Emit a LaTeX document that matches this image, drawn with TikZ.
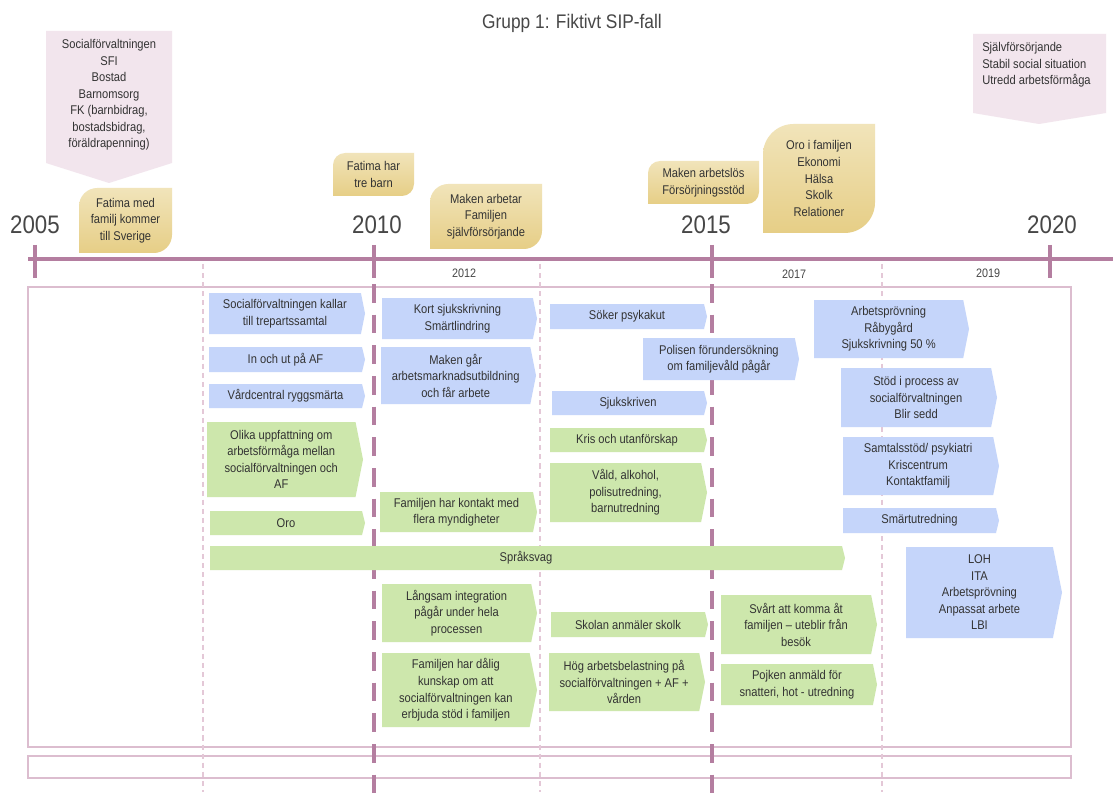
\documentclass[tikz,border=0pt]{standalone}
\usepackage{fontspec}
\setmainfont{Liberation Sans}[FakeStretch=0.88]
\definecolor{bluebox}{HTML}{C5D5FA}
\definecolor{greenbox}{HTML}{CDE7AC}
\definecolor{pinkbox}{HTML}{F2E5ED}
\definecolor{mauve}{HTML}{B47EA0}
\definecolor{lightmauve}{HTML}{E4C8D7}
\definecolor{rectline}{HTML}{DCBDCF}
\definecolor{yeltop}{HTML}{F1E4BA}
\definecolor{yelbot}{HTML}{E6CE86}
\definecolor{txtgray}{HTML}{333333}
\tikzset{
  boxtext/.style={align=center, font=\fontsize{9.5}{12.4}\selectfont, text=txtgray, inner sep=0pt},
  yeartext/.style={font=\fontsize{19}{22}\selectfont, text=txtgray!90, inner sep=0pt},
  smallyear/.style={font=\fontsize{9.2}{11}\selectfont, text=txtgray!90, inner sep=0pt},
  thindash/.style={draw=lightmauve, line width=1.1pt, dash pattern=on 3.8pt off 3pt},
  thickdash/.style={draw=mauve, line width=2.5pt, dash pattern=on 14pt off 9pt},
  bfill/.style={fill=bluebox},
  gfill/.style={fill=greenbox},
}
\newcommand\chevbox[7]{%
  \pgfmathsetmacro\cbD{max(3,0.1*(#5-#3))}%
  \pgfmathsetmacro\cbY{(#3+#5)/2}%
  \pgfmathsetmacro\cbX{(#2+#4-\cbD)/2}%
  \pgfmathsetmacro\cbE{#4-\cbD}%
  \fill[#6] (#2,#3) -- (\cbE,#3) -- (#4,\cbY) -- (\cbE,#5) -- (#2,#5) -- cycle;
  \node[boxtext] (#1) at (\cbX,\cbY) {#7};
}
\newcommand\leafbox[6]{%
  \pgfmathsetmacro\lfR{0.28*min(#4-#2,#5-#3)}%
  \pgfmathsetmacro\lfA{#3+\lfR}%
  \pgfmathsetmacro\lfB{#3+0.448*\lfR}%
  \pgfmathsetmacro\lfC{#2+0.448*\lfR}%
  \pgfmathsetmacro\lfD{#2+\lfR}%
  \pgfmathsetmacro\lfE{#5-\lfR}%
  \pgfmathsetmacro\lfF{#5-0.448*\lfR}%
  \pgfmathsetmacro\lfG{#4-0.448*\lfR}%
  \pgfmathsetmacro\lfH{#4-\lfR}%
  \shade[top color=yeltop,bottom color=yelbot] (#2,#5) -- (#2,\lfA) .. controls (#2,\lfB) and (\lfC,#3) .. (\lfD,#3) -- (#4,#3) -- (#4,\lfE) .. controls (#4,\lfF) and (\lfG,#5) .. (\lfH,#5) -- cycle;
  \pgfmathsetmacro\lfX{(#2+#4)/2}%
  \pgfmathsetmacro\lfY{(#3+#5)/2}%
  \node[boxtext] (#1) at (\lfX,\lfY) {#6};
}
\begin{document}
\begin{tikzpicture}[x=0.75pt,y=-0.75pt]
\useasboundingbox (0,0) rectangle (1113,802);
\fill[white] (0,0) rectangle (1113,802);

% title
\node[font=\fontsize{14.75}{17}\selectfont, text=txtgray!90, inner sep=0pt] (title) at (572,23) {Grupp 1: Fiktivt SIP-fall};

% pink callouts
\fill[pinkbox] (46,31) -- (172,31) -- (172,163) -- (109,183) -- (46,163) -- cycle;
\node[boxtext] (pk1) at (109,95) {Socialförvaltningen\\SFI\\Bostad\\Barnomsorg\\FK (barnbidrag,\\bostadsbidrag,\\föräldrapenning)};
\fill[pinkbox] (973,34) -- (1106,34) -- (1106,113) -- (1039,124) -- (973,113) -- cycle;
\node[boxtext, align=left, anchor=west] (pk2) at (982,65) {Självförsörjande\\Stabil social situation\\Utredd arbetsförmåga};

% yellow leaves
\leafbox{fat1}{79}{188}{172}{253}{Fatima med\\familj kommer\\till Sverige}
\leafbox{fat2}{333}{153}{414}{196}{Fatima har\\tre barn}
\leafbox{makarb}{430}{184}{542}{249}{Maken arbetar\\Familjen\\självförsörjande}
\leafbox{makls}{648}{161}{759}{204}{Maken arbetslös\\Försörjningsstöd}
\leafbox{orofam}{763}{124}{875}{233}{Oro i familjen\\Ekonomi\\Hälsa\\Skolk\\Relationer}

% years
\node[yeartext] (y2005) at (35,225) {2005};
\node[yeartext] (y2010) at (377,225) {2010};
\node[yeartext] (y2015) at (706,225) {2015};
\node[yeartext] (y2020) at (1052,225) {2020};
\node[smallyear] (y2012) at (464,273) {2012};
\node[smallyear] (y2017) at (794,274) {2017};
\node[smallyear] (y2019) at (988,273) {2019};

% frames
\draw[rectline, line width=1.1pt] (28,287) rectangle (1071,747);
\draw[rectline, line width=1.1pt] (28,756) rectangle (1071,778);

% dashed lines
\draw[thindash] (203,264) -- (203,792);
\draw[thindash] (540,264) -- (540,792);
\draw[thindash] (882,264) -- (882,792);
\draw[thickdash] (374,284) -- (374,802);
\draw[thickdash] (712,284) -- (712,802);

% timeline
\draw[mauve, line width=3pt] (28,259) -- (1113,259);
\foreach \tx in {35,374,712,1050} \draw[mauve, line width=2.3pt] (\tx,245) -- (\tx,278);

% boxes
\chevbox{soc}{209}{293}{365}{334}{bfill}{Socialförvaltningen kallar\\till trepartssamtal}
\chevbox{inout}{209}{347}{365}{372}{bfill}{In och ut på AF}
\chevbox{vard}{209}{384}{365}{408}{bfill}{Vårdcentral ryggsmärta}
\chevbox{olika}{207}{422}{363}{497}{gfill}{Olika uppfattning om\\arbetsförmåga mellan\\socialförvaltningen och\\AF}
\chevbox{oro}{210}{511}{365}{535}{gfill}{Oro}
\chevbox{sprak}{210}{546}{845}{570}{gfill}{Språksvag}
\chevbox{kort}{382}{298}{537}{339}{bfill}{Kort sjukskrivning\\Smärtlindring}
\chevbox{makengar}{381}{347}{536}{404}{bfill}{Maken går\\arbetsmarknadsutbildning\\och får arbete}
\chevbox{famkont}{380}{492}{537}{532}{gfill}{Familjen har kontakt med\\flera myndigheter}
\chevbox{langsam}{382}{584}{537}{642}{gfill}{Långsam integration\\pågår under hela\\processen}
\chevbox{famdalig}{382}{653}{537}{727}{gfill}{Familjen har dålig\\kunskap om att\\socialförvaltningen kan\\erbjuda stöd i familjen}
\chevbox{soker}{550}{304}{707}{329}{bfill}{Söker psykakut}
\chevbox{polis}{643}{338}{799}{380}{bfill}{Polisen förundersökning\\om familjevåld pågår}
\chevbox{sjuk}{552}{391}{707}{415}{bfill}{Sjukskriven}
\chevbox{kris}{550}{428}{707}{452}{gfill}{Kris och utanförskap}
\chevbox{vald}{550}{463}{707}{522}{gfill}{Våld, alkohol,\\polisutredning,\\barnutredning}
\chevbox{skolan}{551}{612}{708}{637}{gfill}{Skolan anmäler skolk}
\chevbox{hog}{549}{653}{705}{711}{gfill}{Hög arbetsbelastning på\\socialförvaltningen + AF +\\vården}
\chevbox{svart}{721}{595}{877}{654}{gfill}{Svårt att komma åt\\familjen -- uteblir från\\besök}
\chevbox{pojken}{721}{664}{877}{705}{gfill}{Pojken anmäld för\\snatteri, hot - utredning}
\chevbox{arbets}{814}{300}{969}{358}{bfill}{Arbetsprövning\\Råbygård\\Sjukskrivning 50 \%}
\chevbox{stod}{841}{368}{997}{427}{bfill}{Stöd i process av\\socialförvaltningen\\Blir sedd}
\chevbox{samtal}{843}{437}{999}{495}{bfill}{Samtalsstöd/ psykiatri\\Kriscentrum\\Kontaktfamilj}
\chevbox{smarta}{843}{508}{999}{533}{bfill}{Smärtutredning}
\chevbox{loh}{906}{547}{1062}{638}{bfill}{LOH\\ITA\\Arbetsprövning\\Anpassat arbete\\LBI}
\end{tikzpicture}
\end{document}
